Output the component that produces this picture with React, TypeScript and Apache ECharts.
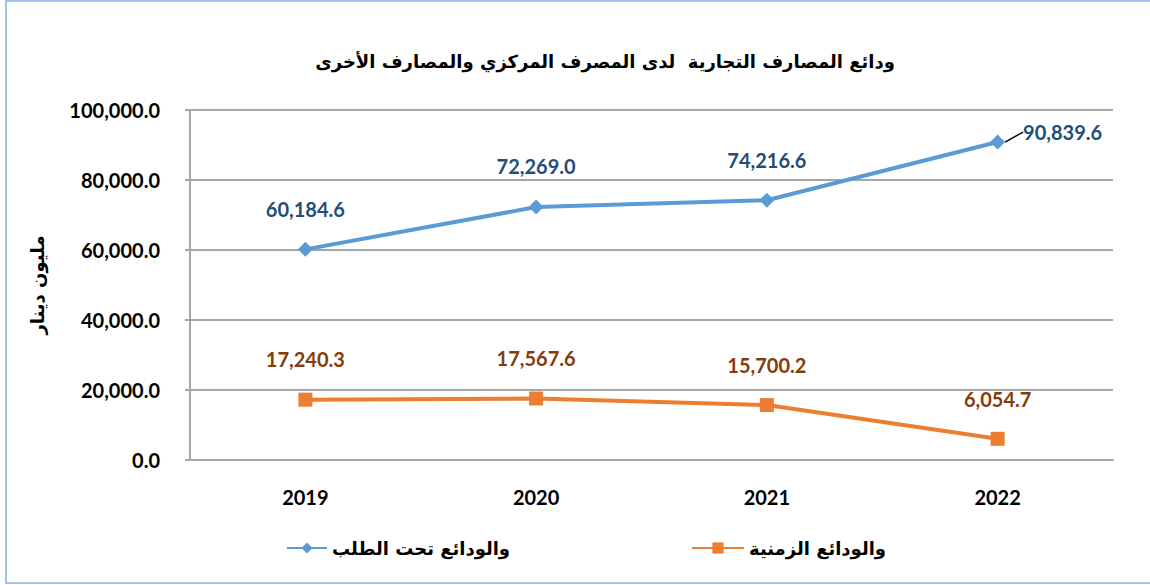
import React, { useEffect, useRef } from "react";
import * as echarts from "echarts";

const titleText = "ودائع المصارف التجارية  لدى المصرف المركزي والمصارف الأخرى";
const yAxisName = "مليون دينار";
const years = ["2019", "2020", "2021", "2022"];
const demandName = "والودائع تحت الطلب";
const timeName = "والودائع الزمنية";
const demandDeposits = [60184.6, 72269.0, 74216.6, 90839.6];
const timeDeposits = [17240.3, 17567.6, 15700.2, 6054.7];
const yTicks = [0, 20000, 40000, 60000, 80000, 100000];

// label offsets (dx, dy) in px, per point; leader line flags
const demandLabelOffsets = [[0, -40], [0, -41], [0, -40], [65, -10]];
const demandLeader = [false, false, false, true];
const timeLabelOffsets = [[0, -41], [0, -41], [0, -40], [0, -40]];

const fmt = (v: number) =>
  v.toLocaleString("en-US", { minimumFractionDigits: 1, maximumFractionDigits: 1 });

const NUM_FONT = "Lato, 'Open Sans', sans-serif";
const AR_FONT = "'DejaVu Sans', 'Noto Sans', sans-serif";

export default function App() {
  const ref = useRef<HTMLDivElement>(null);
  useEffect(() => {
    document.body.style.margin = "0";
    const chart = echarts.init(ref.current!, null, { renderer: "svg" });
    const labelBase = {
      show: true,
      position: "inside" as const,
      fontFamily: NUM_FONT,
      fontWeight: "bold" as const,
      fontSize: 20,
      formatter: (p: any) => fmt(typeof p.value === "number" ? p.value : p.data.value),
    };
    const arText = { fontFamily: AR_FONT, fontWeight: "bold" as const, fontSize: 18, color: "#000" };
    chart.setOption({
      animation: false,
      backgroundColor: "#fff",
      title: {
        text: titleText,
        left: 600,
        textAlign: "center",
        top: 47,
        textStyle: { ...arText, fontSize: 18 },
      },
      graphic: [
        {
          type: "rect",
          shape: { x: 6, y: 1, width: 1160, height: 582 },
          style: { fill: "none", stroke: "#9DC3E6", lineWidth: 2 },
          silent: true,
        },
        {
          type: "text",
          x: 37,
          y: 285,
          rotation: Math.PI / 2,
          style: {
            text: yAxisName,
            fontFamily: AR_FONT,
            fontWeight: "bold",
            fontSize: 18,
            fill: "#000",
            align: "center",
            verticalAlign: "middle",
          },
        },
      ],
      legend: [
        {
          data: [demandName],
          left: 281,
          top: 534,
          itemWidth: 40,
          itemHeight: 14,
          itemGap: 12,
          textStyle: arText,
        },
        {
          data: [timeName],
          left: 686,
          top: 534,
          itemWidth: 52,
          itemHeight: 14,
          itemGap: 2,
          textStyle: arText,
        },
      ],
      grid: { left: 190, right: 37, top: 110, bottom: 125, outerBoundsMode: "none" },
      xAxis: {
        type: "category",
        data: years,
        boundaryGap: true,
        axisLine: { lineStyle: { color: "#A6A6A6", width: 2 } },
        axisTick: { show: false },
        axisLabel: {
          margin: 27,
          fontFamily: NUM_FONT,
          fontWeight: "bold",
          fontSize: 20,
          color: "#000",
        },
      },
      yAxis: {
        type: "value",
        min: yTicks[0],
        max: yTicks[yTicks.length - 1],
        interval: yTicks[1] - yTicks[0],
        axisLine: { show: true, lineStyle: { color: "#A6A6A6", width: 2 } },
        axisTick: { show: true, length: 5, lineStyle: { color: "#A6A6A6", width: 2 } },
        splitLine: { lineStyle: { color: "#A6A6A6", width: 2 } },
        axisLabel: {
          margin: 30,
          fontFamily: NUM_FONT,
          fontWeight: "bold",
          fontSize: 20,
          color: "#000",
          formatter: (v: number) => fmt(v),
        },
      },
      series: [
        {
          name: demandName,
          type: "line",
          data: demandDeposits.map((v, i) => ({
            value: v,
            labelLine: { show: demandLeader[i] },
          })),
          symbol: "diamond",
          symbolSize: 15,
          color: "#5B9BD5",
          lineStyle: { width: 4, color: "#5B9BD5" },
          itemStyle: { color: "#5B9BD5" },
          label: { ...labelBase, color: "#1F4E79" },
          labelLine: { show: false, lineStyle: { color: "#000", width: 1.5 } },
          labelLayout: (p: any) => ({
            dx: demandLabelOffsets[p.dataIndex][0],
            dy: demandLabelOffsets[p.dataIndex][1],
          }),
        },
        {
          name: timeName,
          type: "line",
          data: timeDeposits,
          symbol: "rect",
          symbolSize: 14,
          color: "#ED7D31",
          lineStyle: { width: 4, color: "#ED7D31" },
          itemStyle: { color: "#ED7D31" },
          label: { ...labelBase, color: "#843C0C" },
          labelLayout: (p: any) => ({
            dx: timeLabelOffsets[p.dataIndex][0],
            dy: timeLabelOffsets[p.dataIndex][1],
          }),
        },
      ],
    });
    return () => chart.dispose();
  }, []);
  return (
    <div
      ref={ref}
      style={{ position: "absolute", left: 0, top: 0, width: 1150, height: 585 }}
    />
  );
}
